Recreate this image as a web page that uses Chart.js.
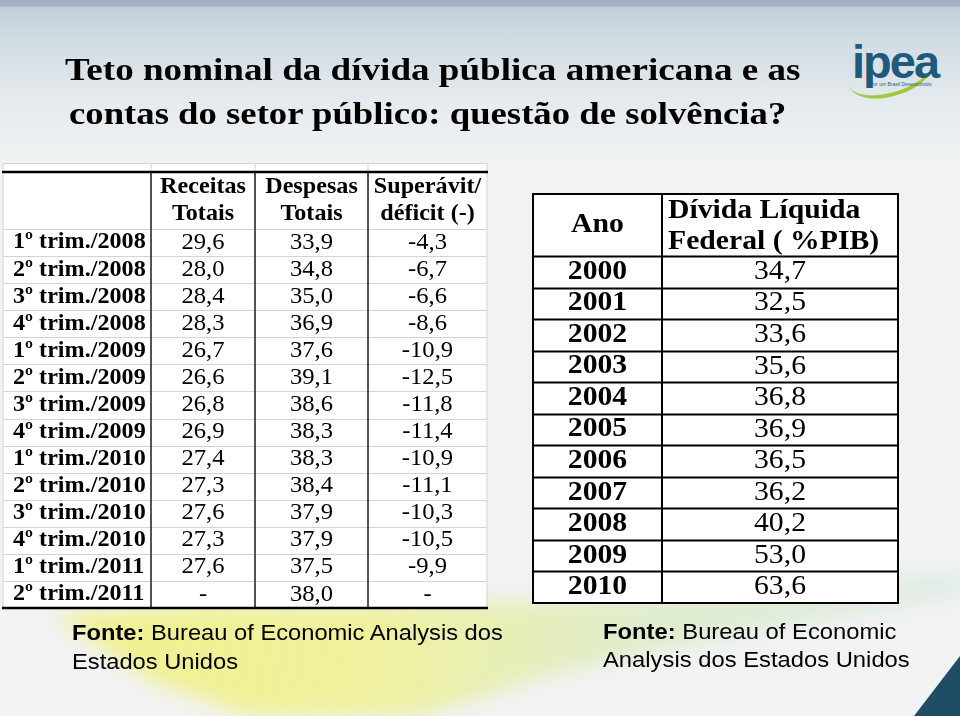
<!DOCTYPE html>
<html lang="pt-BR">
<head>
<meta charset="utf-8">
<title>Teto nominal da dívida pública americana</title>
<script src="https://cdn.jsdelivr.net/npm/chart.js@4.4.1/dist/chart.umd.min.js"></script>
<style>
  html, body { margin: 0; padding: 0; }
  body {
    width: 960px; height: 716px; position: relative; overflow: hidden;
    background: linear-gradient(to bottom, #9dadbf 0px, #a8b7c6 6px, #c4d1da 8px, #d3dde4 45px, #e6ebee 105px, #f0f2f3 160px, #f2f3f3 100%);
  }
  .faixa { position: absolute; left: 0; top: 0; width: 960px; height: 716px; filter: blur(10px); }
  .faixa div { position: absolute; left: 0; top: 0; width: 960px; height: 716px;
               background: linear-gradient(100deg, rgba(240, 240, 110, 0.85) 0%, rgba(238, 240, 130, 0.75) 45%, rgba(200, 228, 160, 0.45) 70%, rgba(170, 215, 200, 0.25) 100%);
               clip-path: polygon(55px 615px, 200px 606px, 420px 604px, 650px 600px, 960px 572px, 960px 596px, 760px 630px, 560px 672px, 420px 716px, 250px 716px, 150px 680px); }
  .canto { position: absolute; right: 0; bottom: 0; width: 46px; height: 60px;
           background: linear-gradient(135deg, #7fb3cc, #1f4d66 45%); clip-path: polygon(100% 0, 100% 100%, 0 100%); }
  .linha { position: absolute; white-space: nowrap; transform-origin: 0 0; color: #000; }
  .titulo { font: bold 32px/32px "Liberation Serif", "Times New Roman", serif; }
  .fonte { font: 22px/22px "Liberation Sans", Arial, sans-serif; }
  .logo { position: absolute; left: 846px; top: 38px; width: 100px; height: 70px; }
  .logo .txt { position: absolute; left: 6px; top: 0; font: bold 47px/47px "Liberation Sans", Arial, sans-serif;
               letter-spacing: -2px; color: #1e5a7a; }
  .logo .sub { position: absolute; left: 24px; top: 44px; font: 5px/5px "Liberation Sans", Arial, sans-serif; color: #2c5c70; }
  .logo .arc { position: absolute; left: 0; top: 8px; width: 90px; height: 46px; border-radius: 50%;
               border-bottom: 4px solid #9ccb3b; transform: rotate(-18deg); }
  canvas { position: absolute; }
</style>
</head>
<body>
<div class="faixa"><div></div></div>
<div class="canto"></div>

<div class="logo"><div class="arc"></div><div class="txt">ipea</div><div class="sub">Por um Brasil Desenvolvido</div></div>

<div class="linha titulo" data-g="t" data-w="735" style="left:65px;top:53px">Teto nominal da dívida pública americana e as</div>
<div class="linha titulo" data-g="t2" data-w="717" style="left:69px;top:97px">contas do setor público: questão de solvência?</div>

<canvas id="tabTrim" width="490" height="452" style="left:0;top:160px"></canvas>
<canvas id="tabAnos" width="372" height="418" style="left:530px;top:190px"></canvas>

<div class="linha fonte" data-g="f1" data-w="431" style="left:72px;top:622px"><b>Fonte:</b> Bureau of Economic Analysis dos</div>
<div class="linha fonte" data-g="f1" style="left:72px;top:651px">Estados Unidos</div>
<div class="linha fonte" data-g="f2" data-w="293" style="left:603px;top:621px"><b>Fonte:</b> Bureau of Economic</div>
<div class="linha fonte" data-g="f2" style="left:603px;top:649px">Analysis dos Estados Unidos</div>

<script>
// dados (% do PIB)
var trimestres = ["1º trim./2008", "2º trim./2008", "3º trim./2008", "4º trim./2008",
                  "1º trim./2009", "2º trim./2009", "3º trim./2009", "4º trim./2009",
                  "1º trim./2010", "2º trim./2010", "3º trim./2010", "4º trim./2010",
                  "1º trim./2011", "2º trim./2011"];
var receitas = [29.6, 28.0, 28.4, 28.3, 26.7, 26.6, 26.8, 26.9, 27.4, 27.3, 27.6, 27.3, 27.6, null];
var despesas = [33.9, 34.8, 35.0, 36.9, 37.6, 39.1, 38.6, 38.3, 38.3, 38.4, 37.9, 37.9, 37.5, 38.0];
var saldo = [-4.3, -6.7, -6.6, -8.6, -10.9, -12.5, -11.8, -11.4, -10.9, -11.1, -10.3, -10.5, -9.9, null];
var cabecalhoTrim = [["Receitas", "Totais"], ["Despesas", "Totais"], ["Superávit/", "déficit (-)"]];

var anos = ["2000", "2001", "2002", "2003", "2004", "2005", "2006", "2007", "2008", "2009", "2010"];
var dividaLiquida = [34.7, 32.5, 33.6, 35.6, 36.8, 36.9, 36.5, 36.2, 40.2, 53.0, 63.6];
var cabecalhoAnos = [["Ano"], ["Dívida Líquida", "Federal ( %PIB)"]];

var SERIF = '"Liberation Serif", "Times New Roman", serif';

function fmt(v) { return v == null ? "-" : v.toFixed(1).replace(".", ","); }

// texto com leve esticamento horizontal, como no slide original
function escreve(ctx, s, x, y, alinha, fonte, sx) {
  ctx.save();
  ctx.font = fonte;
  ctx.textBaseline = "middle";
  ctx.textAlign = "left";
  var w = ctx.measureText(s).width * sx;
  var x0 = alinha === "center" ? x - w / 2 : (alinha === "right" ? x - w : x);
  ctx.translate(x0, y);
  ctx.scale(sx, 1);
  ctx.fillStyle = "#000";
  ctx.fillText(s, 0, 0);
  ctx.restore();
}

function traco(ctx, x1, y1, x2, y2, cor, lw) {
  ctx.beginPath();
  ctx.strokeStyle = cor;
  ctx.lineWidth = lw;
  ctx.moveTo(x1, y1);
  ctx.lineTo(x2, y2);
  ctx.stroke();
}

// plugin que desenha a grade e o cabeçalho da tabela
function tabela(cfg) {
  return {
    id: "tabela",
    beforeDatasetsDraw: function (chart) {
      var ctx = chart.ctx, a = chart.chartArea, x = chart.scales.x, y = chart.scales.y;
      var n = y.getLabels().length;
      var topo = a.top - cfg.altCab;
      var xs = cfg.colunas.map(function (c) { return x.getPixelForValue(c); });
      var esq = xs[0], dir = xs[xs.length - 1];
      ctx.save();
      ctx.fillStyle = "#fff";
      ctx.fillRect(esq, topo - cfg.extra, dir - esq, a.bottom - topo + cfg.extra);
      if (cfg.extra) {
        traco(ctx, esq, topo - cfg.extra + 0.5, dir, topo - cfg.extra + 0.5, cfg.corH, 1);
        xs.forEach(function (px) { traco(ctx, px, topo - cfg.extra, px, topo, cfg.corH, 1); });
      }
      for (var i = 0; i < n; i++) {
        var yy = Math.round(y.getPixelForValue(i - 0.5)) + 0.5;
        traco(ctx, esq, yy, dir, yy, cfg.corH, cfg.larH);
      }
      traco(ctx, esq, topo, esq, a.bottom, cfg.corLado, cfg.larLado);
      traco(ctx, dir, topo, dir, a.bottom, cfg.corLado, cfg.larLado);
      for (var k = 1; k < xs.length - 1; k++) {
        traco(ctx, xs[k], topo, xs[k], a.bottom, cfg.corV, cfg.larV);
      }
      traco(ctx, esq - 1, topo, dir + 1, topo, "#000", cfg.larTopo);
      traco(ctx, esq - 1, a.bottom, dir + 1, a.bottom, "#000", cfg.larTopo);
      // cabeçalho
      cfg.cab.forEach(function (linhas, j) {
        var c = cfg.cabCol[j];
        var al = cfg.cabAlinha[j];
        var px = al === "center" ? (xs[c] + xs[c + 1]) / 2 : xs[c] + cfg.cabRecuo;
        linhas.forEach(function (s, m) {
          var py = linhas.length === 1 ? a.top - cfg.altCab / 2 : a.top + cfg.cabY[m];
          escreve(ctx, s, px, py, al, cfg.cabFonte, cfg.cabSx);
        });
      });
      ctx.restore();
    },
    afterDatasetsDraw: function (chart) {
      var ctx = chart.ctx;
      chart.data.datasets.forEach(function (ds, i) {
        chart.getDatasetMeta(i).data.forEach(function (el, k) {
          escreve(ctx, ds.textos[k], el.x, el.y, ds.alinha, ds.fonte, ds.sx);
        });
      });
    }
  };
}

function coluna(rotulos, px, textos, alinha, fonte, sx) {
  return {
    data: rotulos.map(function (r) { return { x: px, y: r }; }),
    textos: textos, alinha: alinha, fonte: fonte, sx: sx,
    pointRadius: 0, pointHoverRadius: 0, clip: false
  };
}

function opcoes(labels, maxX, padding) {
  return {
    responsive: false,
    animation: false,
    devicePixelRatio: 1,
    events: [],
    layout: { padding: padding },
    plugins: { legend: { display: false }, tooltip: { enabled: false } },
    scales: {
      x: { type: "linear", min: 0, max: maxX, display: false },
      y: { type: "category", labels: labels, offset: true, display: false }
    }
  };
}

// tabela trimestral
var colTrim = [0, 148, 252, 365, 484];
function meio(c, i) { return (c[i] + c[i + 1]) / 2; }
new Chart(document.getElementById("tabTrim"), {
  type: "scatter",
  data: {
    datasets: [
      coluna(trimestres, 10, trimestres, "left", "bold 23px " + SERIF, 1.05),
      coluna(trimestres, meio(colTrim, 1), receitas.map(fmt), "center", "23px " + SERIF, 1.07),
      coluna(trimestres, meio(colTrim, 2), despesas.map(fmt), "center", "23px " + SERIF, 1.07),
      coluna(trimestres, meio(colTrim, 3), saldo.map(fmt), "center", "23px " + SERIF, 1.07)
    ]
  },
  options: opcoes(trimestres, 484, { left: 3, right: 3, top: 69, bottom: 4 }),
  plugins: [tabela({
    colunas: colTrim, altCab: 57, extra: 9,
    corH: "#d3d3d3", larH: 1, corV: "#1a1a1a", larV: 1.5, corLado: "#d3d3d3", larLado: 1, larTopo: 2.5,
    cab: cabecalhoTrim, cabCol: [1, 2, 3], cabAlinha: ["center", "center", "center"],
    cabY: [-42, -15], cabRecuo: 0, cabFonte: "bold 23px " + SERIF, cabSx: 1.05
  })]
});

// tabela anual
var colAnos = [0, 129, 365];
new Chart(document.getElementById("tabAnos"), {
  type: "scatter",
  data: {
    datasets: [
      coluna(anos, meio(colAnos, 0), anos, "center", "bold 27px " + SERIF, 1.1),
      coluna(anos, meio(colAnos, 1), dividaLiquida.map(fmt), "center", "27px " + SERIF, 1.1)
    ]
  },
  options: opcoes(anos, 365, { left: 3, right: 4, top: 66, bottom: 5 }),
  plugins: [tabela({
    colunas: colAnos, altCab: 62, extra: 0,
    corH: "#000", larH: 2, corV: "#000", larV: 2, corLado: "#000", larLado: 2, larTopo: 2,
    cab: cabecalhoAnos, cabCol: [0, 1], cabAlinha: ["center", "left"],
    cabY: [-45, -14], cabRecuo: 6, cabFonte: "bold 27px " + SERIF, cabSx: 1.1
  })]
});

// ajusta a largura das linhas de texto do slide
var escalas = {};
document.querySelectorAll(".linha").forEach(function (el) {
  var g = el.getAttribute("data-g");
  var w = el.getAttribute("data-w");
  if (w) escalas[g] = parseFloat(w) / el.offsetWidth;
  if (escalas[g]) el.style.transform = "scaleX(" + escalas[g] + ")";
});
</script>
</body>
</html>
